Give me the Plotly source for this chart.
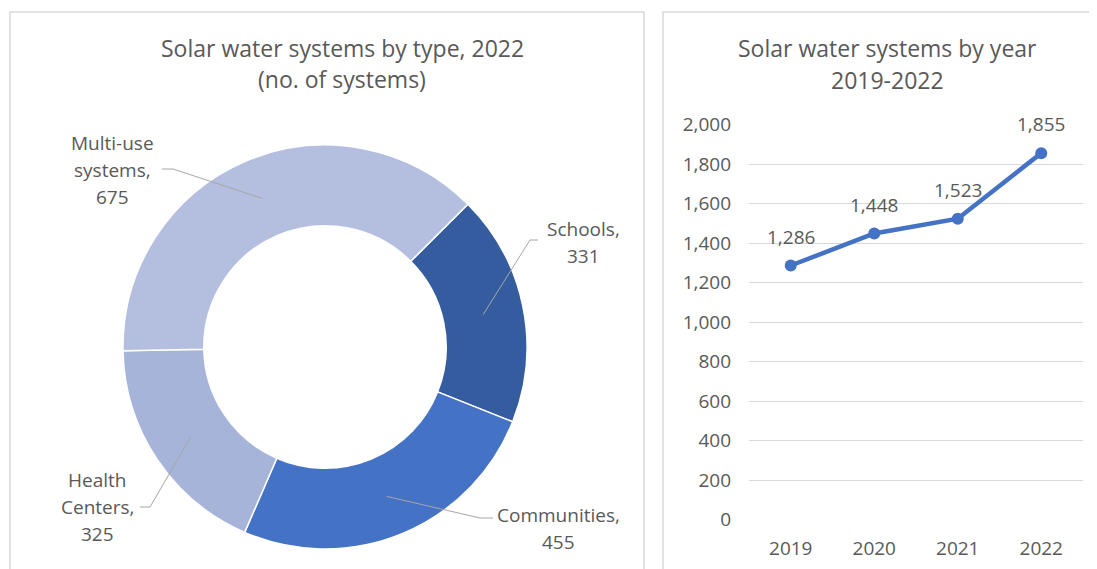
import math
import plotly.graph_objects as go

# ---- data ----
type_labels = ["Schools", "Communities", "Health Centers", "Multi-use systems"]
type_values = [331, 455, 325, 675]
type_label_lines = [["Schools,", "331"], ["Communities,", "455"],
                    ["Health", "Centers,", "325"], ["Multi-use", "systems,", "675"]]
years = ["2019", "2020", "2021", "2022"]
year_values = [1286, 1448, 1523, 1855]
y_ticks = [0, 200, 400, 600, 800, 1000, 1200, 1400, 1600, 1800, 2000]

# ---- layout constants (pixels of the target image) ----
OFF = 8                      # page body margin
W, H = 1097 - OFF, 569 - OFF  # figure size
FONT = "Open Sans"
TXT = "#595959"
slice_colors = ["#345C9F", "#4472C4", "#A7B4DA", "#B4BEDF"]


def px(x):
    return (x - OFF) / W


def py(y):
    return 1 - (y - OFF) / H


cx, cy, R_out, hole = 325, 347, 202, 0.6
rotation = 45
R_mid = R_out * (1 + hole) / 2

fig = go.Figure()

fig.add_trace(go.Pie(
    labels=type_labels, values=type_values, sort=False, direction="clockwise",
    rotation=rotation, hole=hole, textinfo="none", hoverinfo="label+value",
    marker=dict(colors=slice_colors, line=dict(color="white", width=1.5)),
    domain=dict(x=[px(cx - R_out), px(cx + R_out)], y=[py(cy + R_out), py(cy - R_out)]),
    showlegend=False,
))

# label text positions (center x, first line y) and leader elbow points
label_pos = [(583, 229), (558, 515), (97, 480), (112, 143)]
elbows = [((538, 240), (530, 240)), ((493, 518), (480, 518)),
          ((140, 507), (150, 507)), ((162, 169), (173, 169))]
line_h = 27

annotations = []
shapes = []
total = sum(type_values)
acc = 0
for i, v in enumerate(type_values):
    mid = rotation + (acc + v / 2) / total * 360
    acc += v
    a = math.radians(mid)
    tx = cx + R_mid * math.sin(a)
    ty = cy - R_mid * math.cos(a)
    (x0, y0), (x1, y1) = elbows[i]
    shapes.append(dict(type="path", xref="paper", yref="paper",
                       path=f"M {px(x0)} {py(y0)} L {px(x1)} {py(y1)} L {px(tx)} {py(ty)}",
                       line=dict(color="#A6A6A6", width=1)))
    lx, ly = label_pos[i]
    for j, t in enumerate(type_label_lines[i]):
        annotations.append(dict(text=t, x=px(lx), y=py(ly + j * line_h), xref="paper", yref="paper",
                                xanchor="center", yanchor="middle", showarrow=False,
                                font=dict(family=FONT, size=19, color=TXT)))

# titles
for t, x, y in [("Solar water systems by type, 2022", 342, 48), ("(no. of systems)", 342, 79),
                ("Solar water systems by year", 887, 48), ("2019-2022", 887, 80)]:
    annotations.append(dict(text=t, x=px(x), y=py(y), xref="paper", yref="paper",
                            xanchor="center", yanchor="middle", showarrow=False,
                            font=dict(family=FONT, size=23, color=TXT)))

# panel borders
shapes.append(dict(type="rect", xref="paper", yref="paper", x0=px(10), x1=px(644), y0=py(580), y1=py(12),
                   line=dict(color="#D9D9D9", width=1.5), layer="below"))
shapes.append(dict(type="rect", xref="paper", yref="paper", x0=px(663), x1=px(1110), y0=py(580), y1=py(12),
                   line=dict(color="#D9D9D9", width=1.5), layer="below"))

# line chart
fig.add_trace(go.Scatter(
    x=years, y=year_values, mode="lines+markers", xaxis="x", yaxis="y",
    line=dict(color="#4472C4", width=4.5), marker=dict(size=12, color="#4472C4"),
    showlegend=False, hoverinfo="x+y",
))
for i, v in enumerate(year_values):
    annotations.append(dict(text=f"{v:,}", x=i, y=v, xref="x", yref="y", yshift=29,
                            xanchor="center", yanchor="middle",
                            showarrow=False, font=dict(family=FONT, size=19, color=TXT)))

fig.update_layout(
    template="none",
    width=W, height=H, margin=dict(l=0, r=0, t=0, b=0, pad=0), autosize=False,
    paper_bgcolor="white", plot_bgcolor="white",
    font=dict(family=FONT, color=TXT, size=18),
    xaxis=dict(domain=[px(749), px(1083)], type="category", range=[-0.5, 3.5],
               showgrid=False, zeroline=False, showline=False, ticks="", automargin=False,
               tickfont=dict(size=19, color=TXT), ticklabelstandoff=15, anchor="y"),
    yaxis=dict(domain=[py(519.5), py(124.5)], range=[0, 2000], tickvals=y_ticks,
               ticktext=[f"{t:,}" for t in y_ticks], showgrid=True, gridcolor="#D9D9D9",
               gridwidth=1, zeroline=False, showline=False, ticks="", automargin=False,
               tickfont=dict(size=19, color=TXT), ticklabelstandoff=17, anchor="x"),
    annotations=annotations, shapes=shapes,
)

fig.write_html("out.html")
